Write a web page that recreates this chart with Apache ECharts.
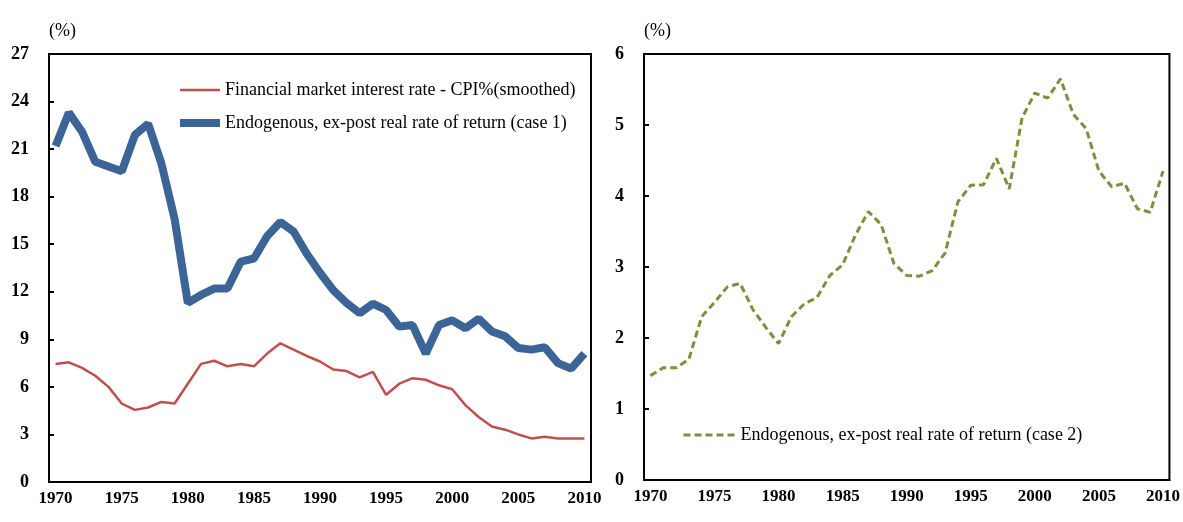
<!DOCTYPE html>
<html lang="en">
  <head>
    <meta charset="UTF-8" />
    <title>Real rates of return</title>
    <style>
      body {
        margin: 0;
        padding: 0;
        background-color: #fff;
      }
      #container {
        width: 1183px;
        height: 522px;
      }
    </style>
  </head>
  <body>
    <div id="container"></div>

    <script src="https://cdn.jsdelivr.net/npm/echarts@6/dist/echarts.min.js"></script>
    <script>
      // years 1970..2010
      const years = [
        "1970", "1971", "1972", "1973", "1974", "1975", "1976", "1977", "1978", "1979",
        "1980", "1981", "1982", "1983", "1984", "1985", "1986", "1987", "1988", "1989",
        "1990", "1991", "1992", "1993", "1994", "1995", "1996", "1997", "1998", "1999",
        "2000", "2001", "2002", "2003", "2004", "2005", "2006", "2007", "2008", "2009",
        "2010",
      ];

      // left panel
      const marketRate = [
        7.45, 7.55, 7.2, 6.7, 6.0, 4.95, 4.55, 4.7, 5.05, 4.95,
        6.2, 7.45, 7.65, 7.3, 7.45, 7.3, 8.1, 8.75, 8.35, 7.95,
        7.6, 7.1, 7.0, 6.6, 6.95, 5.5, 6.2, 6.55, 6.45, 6.1,
        5.85, 4.85, 4.1, 3.5, 3.3, 3.0, 2.75, 2.85, 2.75, 2.75,
        2.75,
      ];
      const case1 = [
        21.2, 23.3, 22.1, 20.2, 19.9, 19.6, 21.9, 22.6, 20.1, 16.6,
        11.3, 11.8, 12.2, 12.2, 13.9, 14.1, 15.5, 16.4, 15.8, 14.4,
        13.2, 12.1, 11.3, 10.65, 11.25, 10.85, 9.8, 9.9, 8.1, 9.9,
        10.2, 9.7, 10.3, 9.5, 9.2, 8.45, 8.35, 8.5, 7.5, 7.15,
        8.1,
      ];

      // right panel
      const case2 = [
        1.47, 1.58, 1.58, 1.7, 2.3, 2.5, 2.72, 2.77, 2.4, 2.15,
        1.92, 2.3, 2.48, 2.57, 2.88, 3.03, 3.45, 3.78, 3.6, 3.05,
        2.88, 2.87, 2.95, 3.2, 3.92, 4.15, 4.16, 4.53, 4.1, 5.1,
        5.45, 5.38, 5.65, 5.15, 4.95, 4.35, 4.13, 4.18, 3.82, 3.77,
        4.35,
      ];

      const leftTicks = { min: 0, max: 27, interval: 3 };
      const rightTicks = { min: 0, max: 6, interval: 1 };

      const names = [
        "Financial market interest rate - CPI%(smoothed)",
        "Endogenous, ex-post real rate of return (case 1)",
        "Endogenous, ex-post real rate of return (case 2)",
      ];

      const font = "'Liberation Serif', 'Times New Roman', serif";

      const chart = echarts.init(document.getElementById("container"));

      function xAxisFor(gridIndex) {
        return {
          type: "category",
          gridIndex: gridIndex,
          data: years,
          boundaryGap: true,
          axisLine: { lineStyle: { color: "#000", width: 2 } },
          axisTick: {
            inside: true,
            length: 6,
            interval: 4,
            lineStyle: { color: "#000", width: 2 },
          },
          axisLabel: {
            interval: 4,
            margin: 8,
            color: "#000",
            fontFamily: font,
            fontWeight: "bold",
            fontSize: 17,
          },
          splitLine: { show: false },
        };
      }

      function yAxisFor(gridIndex, ticks) {
        return {
          type: "value",
          gridIndex: gridIndex,
          min: ticks.min,
          max: ticks.max,
          interval: ticks.interval,
          name: "(%)",
          nameLocation: "end",
          nameGap: 14,
          nameTextStyle: {
            align: "left",
            color: "#000",
            fontFamily: font,
            fontSize: 18,
          },
          axisLine: { show: true, lineStyle: { color: "#000", width: 2 } },
          axisTick: {
            show: true,
            inside: true,
            length: 5,
            lineStyle: { color: "#000", width: 2 },
          },
          axisLabel: {
            margin: 20,
            color: "#000",
            fontFamily: font,
            fontWeight: "bold",
            fontSize: 18,
          },
          splitLine: { show: false },
        };
      }

      const legendText = { color: "#000", fontFamily: font, fontSize: 18 };

      const option = {
        backgroundColor: "#fff",
        animation: false,
        grid: [
          {
            left: 49, right: 592, top: 54, bottom: 40,
            show: true, borderColor: "#000", borderWidth: 2,
          },
          {
            left: 644, right: 12, top: 54, bottom: 42,
            show: true, borderColor: "#000", borderWidth: 2,
          },
        ],
        legend: [
          {
            data: [
              { name: names[0], lineStyle: { width: 2.5 } },
              { name: names[1], lineStyle: { width: 8 } },
            ],
            orient: "vertical",
            left: 171,
            top: 76,
            itemWidth: 40,
            itemHeight: 14,
            itemGap: 15,
            itemStyle: { opacity: 0 },
            textStyle: legendText,
          },
          {
            data: [{ name: names[2], lineStyle: { width: 3 } }],
            left: 677,
            top: 421,
            itemWidth: 52,
            itemHeight: 14,
            itemStyle: { opacity: 0 },
            textStyle: legendText,
          },
        ],
        xAxis: [xAxisFor(0), xAxisFor(1)],
        yAxis: [yAxisFor(0, leftTicks), yAxisFor(1, rightTicks)],
        series: [
          {
            name: names[0],
            type: "line",
            xAxisIndex: 0,
            yAxisIndex: 0,
            data: marketRate,
            symbol: "none",
            lineStyle: { color: "#c0504d", width: 2.5 },
            itemStyle: { color: "#c0504d" },
          },
          {
            name: names[1],
            type: "line",
            xAxisIndex: 0,
            yAxisIndex: 0,
            data: case1,
            symbol: "none",
            lineStyle: { color: "#3b6597", width: 8 },
            itemStyle: { color: "#3b6597" },
          },
          {
            name: names[2],
            type: "line",
            xAxisIndex: 1,
            yAxisIndex: 1,
            data: case2,
            symbol: "none",
            lineStyle: { color: "#77933c", width: 3, type: [7, 4] },
            itemStyle: { color: "#77933c" },
          },
        ],
      };

      chart.setOption(option);
    </script>
  </body>
</html>
